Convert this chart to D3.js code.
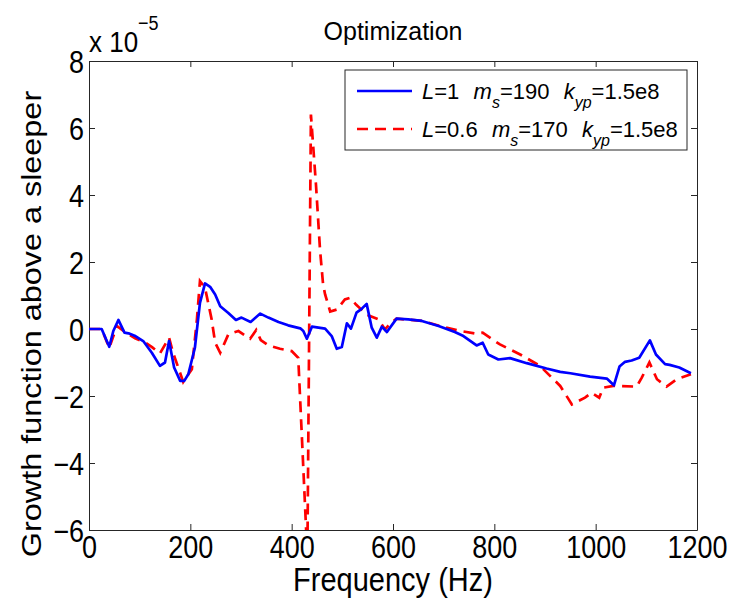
<!DOCTYPE html>
<html>
<head>
<meta charset="utf-8">
<script src="https://cdn.jsdelivr.net/npm/d3@7"></script>
<style>
  body { margin: 0; background: #fff; }
  svg { display: block; }
  text { font-family: "Liberation Sans", Arial, Helvetica, sans-serif; fill: #000; }
</style>
</head>
<body>
<div id="chart"></div>
<script>
// frequency (Hz) and growth function (x 1e-5)
const freqA = [0, 25, 40, 48, 58, 70, 78, 90, 107, 124, 140, 150, 158, 168, 180, 188, 196, 209, 219, 229,
  239, 249, 259, 275, 290, 301, 319, 338, 354, 374, 393, 417, 423, 430, 440, 466, 479, 489, 499, 509,
  517, 528, 538, 548, 558, 568, 578, 588, 607, 630, 657, 690, 722, 739, 765, 777, 788, 808, 831, 864,
  903, 930, 950, 989, 1022, 1036, 1047, 1058, 1071, 1086, 1107, 1119, 1137, 1146, 1165, 1188];
const growthA = [0, 0, -0.53, -0.06, 0.27, -0.11, -0.13, -0.2, -0.36, -0.71, -1.1, -1.0, -0.36, -1.15, -1.55, -1.55, -1.35, -0.56, 0.78, 1.36,
  1.26, 1.03, 0.68, 0.48, 0.27, 0.34, 0.21, 0.46, 0.34, 0.21, 0.11, 0.02, -0.06, -0.29, 0.07, 0.01, -0.21, -0.59, -0.54, 0.17,
  0.01, 0.49, 0.6, 0.75, 0.04, -0.26, 0.07, -0.09, 0.31, 0.29, 0.24, 0.09, -0.09, -0.21, -0.49, -0.41, -0.76, -0.91, -0.87, -1.02,
  -1.18, -1.28, -1.32, -1.42, -1.48, -1.68, -1.12, -0.98, -0.94, -0.86, -0.34, -0.76, -1.05, -1.07, -1.15, -1.32];

const freqB = [0, 25, 40, 55, 68, 91, 110, 125, 140, 158, 166, 186, 203, 213, 219, 229, 242, 249, 259, 275,
  295, 318, 330, 339, 354, 377, 400, 413, 431, 438, 448, 456, 462, 466, 476, 489, 505, 515, 527, 548,
  571, 584, 597, 607, 657, 693, 733, 765, 777, 811, 851, 890, 930, 953, 979, 992, 1007, 1015, 1035, 1081,
  1091, 1106, 1121, 1140, 1160, 1188];
const growthB = [0, 0, -0.56, 0.09, -0.06, -0.28, -0.39, -0.55, -0.73, -0.26, -0.71, -1.58, -1.2, 0.29, 1.43, 1.23, 0.29, -0.41, -0.71, -0.16,
  -0.06, -0.29, -0.03, -0.33, -0.49, -0.59, -0.66, -0.86, -6.8, 6.4, 4.3, 2.36, 1.33, 1.03, 0.52, 0.58, 0.88, 0.93, 0.73, 0.43,
  0.29, -0.01, 0.19, 0.31, 0.24, 0.09, -0.06, -0.14, -0.11, -0.46, -0.76, -1.1, -1.7, -2.25, -2.05, -1.9, -2.05, -1.75, -1.7, -1.72,
  -1.45, -1.0, -1.5, -1.72, -1.5, -1.35];

const xTicks = [0, 200, 400, 600, 800, 1000, 1200];
const yTicks = [-6, -4, -2, 0, 2, 4, 6, 8];

const width = 729, height = 599;
const margin = { top: 61, right: 32, bottom: 69, left: 89 };
const stretch = 1.15; // text in the figure is taller than wide

const svg = d3.select("#chart").append("svg")
  .attr("width", width)
  .attr("height", height);

const x = d3.scaleLinear().domain([0, 1200]).range([margin.left, width - margin.right]);
const y = d3.scaleLinear().domain([-6, 8]).range([height - margin.bottom, margin.top]);

svg.append("defs").append("clipPath").attr("id", "clip")
  .append("rect")
  .attr("x", margin.left).attr("y", margin.top)
  .attr("width", x(1200) - x(0)).attr("height", y(-6) - y(8));

// axes, ticks inward on all sides
const axisColor = "#262626";
function styleAxis(g) {
  g.select(".domain").attr("stroke", axisColor).attr("stroke-width", 1);
  g.selectAll(".tick line").attr("stroke", axisColor);
}

const gx = svg.append("g")
  .attr("transform", `translate(0,${y(-6)})`)
  .call(d3.axisBottom(x).tickValues(xTicks).tickSizeInner(-6).tickSizeOuter(0).tickFormat(d3.format("d")))
  .call(styleAxis);
gx.selectAll(".tick text")
  .attr("y", 0).attr("dy", null)
  .attr("transform", `translate(0,28) scale(1,${stretch})`)
  .style("font-size", "27px");

const gy = svg.append("g")
  .attr("transform", `translate(${x(0)},0)`)
  .call(d3.axisLeft(y).tickValues(yTicks).tickSizeInner(-6).tickSizeOuter(0).tickFormat(d3.format("d")))
  .call(styleAxis);
gy.selectAll(".tick text")
  .attr("x", 0).attr("dy", null)
  .attr("transform", `translate(-5,11) scale(1,${stretch})`)
  .style("font-size", "27px");

svg.append("g")
  .attr("transform", `translate(0,${y(8)})`)
  .call(d3.axisTop(x).tickValues(xTicks).tickSizeInner(-6).tickSizeOuter(0).tickFormat(""))
  .call(styleAxis);

svg.append("g")
  .attr("transform", `translate(${x(1200)},0)`)
  .call(d3.axisRight(y).tickValues(yTicks).tickSizeInner(-6).tickSizeOuter(0).tickFormat(""))
  .call(styleAxis);

// lines
const line = d3.line().x(d => x(d[0])).y(d => y(d[1]));
const plot = svg.append("g").attr("clip-path", "url(#clip)");

plot.append("path")
  .datum(d3.zip(freqB, growthB))
  .attr("fill", "none")
  .attr("stroke", "#ff0000")
  .attr("stroke-width", 2.7)
  .attr("stroke-dasharray", "11,7")
  .attr("d", line);

plot.append("path")
  .datum(d3.zip(freqA, growthA))
  .attr("fill", "none")
  .attr("stroke", "#0000ff")
  .attr("stroke-width", 2.7)
  .attr("stroke-linejoin", "round")
  .attr("d", line);

// exponent label
const expo = svg.append("text")
  .attr("transform", `translate(${x(0)},52) scale(1,${stretch})`)
  .style("font-size", "26px");
expo.append("tspan").text("x 10");
expo.append("tspan").attr("dy", -19).style("font-size", "18px").text("\u22125");

// title
svg.append("text")
  .attr("transform", `translate(${(x(0) + x(1200)) / 2},40) scale(1,1.05)`)
  .attr("text-anchor", "middle")
  .style("font-size", "25px")
  .text("Optimization");

// axis labels
svg.append("text")
  .attr("transform", `translate(${(x(0) + x(1200)) / 2},591) scale(1,${stretch})`)
  .attr("text-anchor", "middle")
  .style("font-size", "29px")
  .text("Frequency (Hz)");

svg.append("text")
  .attr("transform", `translate(41,324) rotate(-90) scale(1.2,1)`)
  .attr("text-anchor", "middle")
  .style("font-size", "27px")
  .text("Growth function above a sleeper");

// legend
const legend = svg.append("g");
legend.append("rect")
  .attr("x", 345).attr("y", 70).attr("width", 342).attr("height", 80)
  .attr("fill", "#fff").attr("stroke", axisColor).attr("stroke-width", 1);

const legendItems = [
  { color: "#0000ff", dash: null, L: "1", ms: "190", kyp: "1.5e8" },
  { color: "#ff0000", dash: "11,7", L: "0.6", ms: "170", kyp: "1.5e8" }
];
legendItems.forEach((it, i) => {
  const yy = 91 + i * 38;
  legend.append("line")
    .attr("x1", 357).attr("x2", 412).attr("y1", yy).attr("y2", yy)
    .attr("stroke", it.color).attr("stroke-width", 2.7)
    .attr("stroke-dasharray", it.dash);
  const t = legend.append("text")
    .attr("x", 422).attr("y", yy + 8)
    .style("font-size", "22px");
  t.append("tspan").style("font-style", "italic").text("L");
  t.append("tspan").text("=" + it.L + "\u00a0\u00a0");
  t.append("tspan").attr("dx", 2).style("font-style", "italic").text("m");
  t.append("tspan").attr("dy", 9).style("font-size", "16px").style("font-style", "italic").text("s");
  t.append("tspan").attr("dy", -9).text("=" + it.ms + "\u00a0\u00a0");
  t.append("tspan").attr("dx", 2).style("font-style", "italic").text("k");
  t.append("tspan").attr("dy", 9).style("font-size", "16px").style("font-style", "italic").text("yp");
  t.append("tspan").attr("dy", -9).text("=" + it.kyp);
});
</script>
</body>
</html>
